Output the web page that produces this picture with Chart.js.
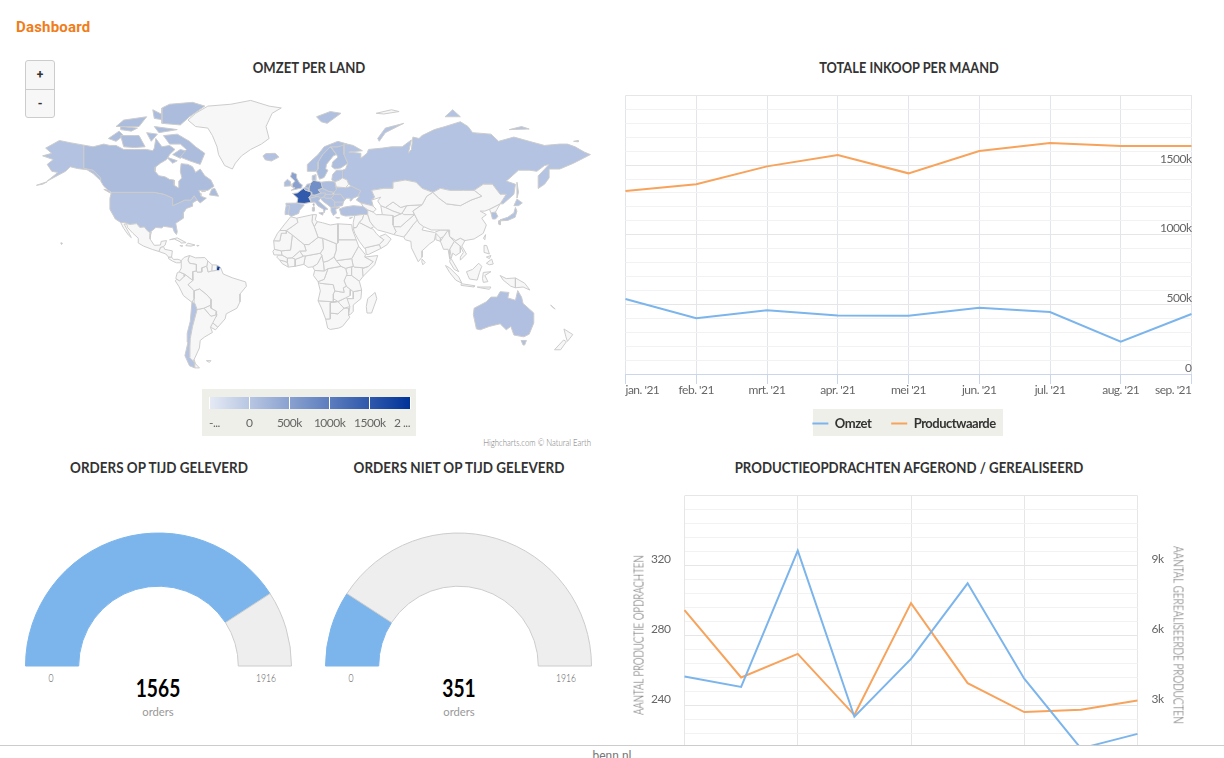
<!DOCTYPE html>
<html lang="nl">
<head>
<meta charset="utf-8">
<title>Dashboard</title>
<script src="https://cdn.jsdelivr.net/npm/chart.js@4"></script>
<style>
  html, body { margin: 0; width: 1224px; height: 758px; overflow: hidden; background: #fff; }
  body { position: relative; font-family: Lato, sans-serif; color: #333; }
  canvas { position: absolute; }
  .abs { position: absolute; white-space: nowrap; }
  #brand { left: 16px; top: 18px; font: 700 15px Roboto, sans-serif; letter-spacing: .2px; color: #f07d1a; }
  .title { font-size: 16px; font-weight: 700; line-height: 20px; color: #333; transform: translateX(-50%) scaleX(.84); }
  #zoom { left: 25px; top: 60px; width: 28px; height: 56px; border: 1px solid #ccc; border-radius: 3px; background: #f7f7f7; font: 700 12px Roboto, sans-serif; color: #333; }
  #zoom div { height: 28px; line-height: 28px; text-align: center; }
  #zoom div + div { border-top: 1px solid #ccc; box-sizing: border-box; height: 28px; }
  #credit { left: 591px; top: 436px; font-size: 10px; font-weight: 300; color: #777; transform: translateX(-100%) scaleX(.78); transform-origin: right; }
  .box { background: #eeefe9; }
  .gauge-end { font-size: 12px; font-weight: 300; color: #555; top: 670px; transform: translateX(-50%) scaleX(.72); }
  .gauge-value { font-size: 24px; font-weight: 700; color: #000; top: 673px; transform: translateX(-50%) scaleX(.8); }
  .gauge-unit { font-size: 12px; color: #999; top: 704px; transform: translateX(-50%) scaleX(.94); }
  .axis-title { font-size: 14px; font-weight: 300; color: #555; top: 635px; }
  #footer { left: 0; top: 745px; width: 1224px; height: 13px; background: #fff; border-top: 1px solid #ccc; box-sizing: border-box; text-align: center; font: 12px Roboto, sans-serif; color: #777; line-height: 20px; overflow: hidden; z-index: 5; }
</style>
</head>
<body>
<div id="brand" class="abs">Dashboard</div>

<div class="abs title" style="left:309px;top:57px;transform:translateX(-50%) scaleX(.82)">OMZET PER LAND</div>
<div class="abs title" style="left:909px;top:57px;transform:translateX(-50%) scaleX(.8)">TOTALE INKOOP PER MAAND</div>
<div class="abs title" style="left:159px;top:457px">ORDERS OP TIJD GELEVERD</div>
<div class="abs title" style="left:459px;top:457px">ORDERS NIET OP TIJD GELEVERD</div>
<div class="abs title" style="left:909px;top:457px;transform:translateX(-50%) scaleX(.826)">PRODUCTIEOPDRACHTEN AFGEROND / GEREALISEERD</div>

<canvas id="map" width="570" height="285" style="left:25px;top:95px"></canvas>
<div id="zoom" class="abs"><div>+</div><div>-</div></div>
<div class="abs box" style="left:202px;top:389px;width:214px;height:47px"></div>
<canvas id="map-legend" width="214" height="47" style="left:202px;top:389px"></canvas>
<div id="credit" class="abs">Highcharts.com © Natural Earth</div>

<div class="abs box" style="left:813px;top:409px;width:190px;height:27px"></div>
<canvas id="inkoop" width="585" height="355" style="left:615px;top:85px"></canvas>

<canvas id="gauge-on-time" width="273" height="137" style="left:22px;top:531px"></canvas>
<canvas id="gauge-late" width="273" height="137" style="left:322px;top:531px"></canvas>
<div class="abs gauge-end" style="left:51px" id="on-time-min"></div>
<div class="abs gauge-end" style="left:266px" id="on-time-max"></div>
<div class="abs gauge-value" style="left:158px" id="on-time-value"></div>
<div class="abs gauge-unit" style="left:158px">orders</div>
<div class="abs gauge-end" style="left:351px" id="late-min"></div>
<div class="abs gauge-end" style="left:566px" id="late-max"></div>
<div class="abs gauge-value" style="left:459px" id="late-value"></div>
<div class="abs gauge-unit" style="left:459px">orders</div>

<canvas id="productie" width="580" height="300" style="left:620px;top:485px"></canvas>
<div class="abs axis-title" style="left:638px;transform:translate(-50%,-50%) rotate(-90deg) scaleX(.69)">AANTAL PRODUCTIE OPDRACHTEN</div>
<div class="abs axis-title" style="left:1179px;transform:translate(-50%,-50%) rotate(90deg) scaleX(.71)">AANTAL GEREALISEERDE PRODUCTEN</div>
<div id="footer" class="abs">benn.nl</div>

<script>
// Monthly purchasing (values in thousands)
const months = ["jan. '21", "feb. '21", "mrt. '21", "apr. '21", "mei '21", "jun. '21", "jul. '21", "aug. '21", "sep. '21"];
const omzet = [539, 400, 457, 421, 419, 476, 445, 232, 431];
const productwaarde = [1314, 1362, 1491, 1573, 1441, 1601, 1659, 1637, 1637];

// Production orders, the x labels are below the fold in the reference
const periods = ['1', '2', '3', '4', '5', '6', '7', '8', '9'];
const productieOpdrachten = [256.6, 250.6, 328.5, 233.6, 266.6, 309.8, 255.3, 215.5, 223.8];
const gerealiseerd = [7090, 4200, 5210, 2590, 7390, 3960, 2720, 2820, 3210];

// Gauges
const gaugeMin = 0;
const gaugeMax = 1916;
const ordersOnTime = 1565;
const ordersLate = 351;

// Colour axis of the map
const legendTicks = ['-...', '0', '500k', '1000k', '1500k', '2 ...'];

// Country outlines as lon,lat pairs
const canada = [[-141,69.6,-135,69,-128,70,-124,69.5,-120,69.5,-115,68,-108,68,-104,68,-100,68,-96,67.5,-95,68.5,-94,72,-90,69,-85,69.5,-81.5,68,-85,66,-87,64,-91,62.5,-94,61,-94.5,59,-92,57,-88,56.5,-85,55.3,-82,55,-82,52.5,-79.5,51.3,-79,54.5,-77,56,-78,59,-77.5,62.3,-73,62,-70,61,-68,58.5,-65,60,-62,57,-58,55,-56,52,-60,50,-66,50,-65,48.5,-64.5,47,-61,46,-65,43.5,-67,45,-69,47.3,-71,45,-75,45,-79,43.5,-83,42,-83,46,-88.5,48,-95,49,-123,49,-125,50,-128,52,-130,54.5,-130,56,-135,59.5,-141,60.3],
  [-80,73.5,-72,71,-68,69,-62,66.5,-65,62,-72,63.5,-78,65,-74,68,-78,70,-85,70,-89,73], [-117,73,-108,73,-105,73,-101,69,-108,68.7,-115,69], [-90,77,-78,76.5,-72,79,-62,82,-70,83,-85,82.5,-90,81.5], [-125,72,-118,74.5,-115,73,-120,71],
  [-95,76,-80,75,-92,74], [-59,47.7,-53,47,-55.5,51,-57.5,50.5], [-87,65,-80,63.5,-83,62.5], [-120,76,-105,76,-100,79,-115,78], [-100,74,-93,73.5,-97,71], [-128,50.5,-123.5,48.5,-125,50], [-117,76,-106,75.5,-110,74.5,-117,75], [-96,81,-87,79,-88,78,-95,78.5], [-83,66,-78,64.5,-72,67,-78,68], [-64,50,-61.5,49.5,-64,49.3]];
const usa = [[-123,49,-95,49,-88.5,48,-83,46,-83,42,-79,43.5,-75,45,-71,45,-69,47.3,-67,45,-70,43.5,-70,41.7,-74,40.5,-76,38,-76,35,-81,32,-80,27,-80.5,25.2,-82,27,-83,29.5,-85,29.7,-89,30.2,-90,29.2,-94,29.5,-97.3,27,-97.2,26,-99.5,27.5,-101.5,29.8,-104.5,29.5,-106.5,31.8,-111,31.3,-114.8,32.5,-117,32.5,-120.5,34.5,-124,40,-124,46],
  [-141,69.6,-150,70.5,-157,71.3,-166,68.5,-162,66.5,-168,65.5,-161,64,-165,62,-162,59,-158,58.5,-165,54.5,-153,59,-150,61,-145,60.2,-139,59.7,-135,58,-130.5,55,-130,56,-135,59.5,-141,60.3], [-156,20.2,-155,19.8,-155.6,19,-156,19.5], [-172,52.5,-168,53.5,-165,54.2,-168,53]];
const mexico = [[-117,32.5,-114.8,32.5,-111,31.3,-106.5,31.8,-104.5,29.5,-101.5,29.8,-99.5,27.5,-97.2,26,-97.8,22.5,-95,18.5,-91,18.7,-90.5,21,-87,21.5,-88,18.5,-89,17.8,-91,17.2,-92,14.6,-96,15.8,-102,18,-105.5,20,-105.5,23,-109,26,-112.5,29.5,-113,31.5,-114.7,31.5,-112,27,-110,23.3,-112,25,-115,29]];
const centralNorth = [[-92,14.6,-91,17.2,-89,17.8,-88.2,16,-83.2,15,-83.7,11,-85.7,11,-87.5,13]];
const centralSouth = [[-83.7,11,-82.5,9.5,-79.5,9.6,-77.4,8.7,-78,7.3,-80.5,7.3,-83,8.3,-85.7,10,-85.7,11]];
const caribbean = [[-85,22,-80,23.2,-74.2,20.2,-77.5,19.9,-78,20.7,-82,22.5], [-74.4,18.3,-73,19.9,-68.4,18.7,-71,18], [-78.3,18.4,-76.3,18.2,-77,17.8], [-67.2,18.5,-65.7,18.4,-67,18]];
const colombia = [[-77.4,8.7,-75.5,10.8,-72,12,-72.4,11,-73,9,-72,7,-67.5,6.2,-67.5,2,-70,1.5,-69.8,-4.2,-72,-2.5,-75,-0.2,-78.7,1.4,-77.3,4,-77.4,7]];
const venezuela = [[-72,12,-68,10.5,-62,10.7,-60,8.5,-60.7,5.2,-64,4,-64,1.3,-67,1.2,-67.5,2,-67.5,6.2,-72,7,-73,9,-72.4,11]];
const guyana = [[-60,8.5,-57.2,6,-57.5,2,-59.8,1.3,-60.7,5.2]];
const suriname = [[-57.2,6,-54,5.8,-54.5,2.3,-57.5,2]];
const frenchGuiana = [[-54,5.8,-51.7,4.2,-52.8,2.2,-54.5,2.3]];
const ecuador = [[-80.8,-2.2,-80,0.8,-78.7,1.4,-75,-0.2,-75.5,-1.5,-78.5,-4.5,-80.3,-3.4]];
const peru = [[-81.3,-4.5,-80.3,-3.4,-78.5,-4.5,-75.5,-1.5,-75,-0.2,-72,-2.5,-69.8,-4.2,-73,-7,-70.5,-9.5,-69,-11,-69,-16,-70.4,-18.3,-76,-14,-79,-8]];
const bolivia = [[-69,-11,-65.4,-9.8,-60.5,-13.7,-58,-16.5,-58,-20,-62.6,-22,-67,-22.8,-68.5,-19,-69,-16]];
const chile = [[-70.4,-18.3,-68.5,-19,-67,-22.8,-70,-33,-71.5,-40,-71.7,-44,-72,-50,-69,-52,-68.5,-55,-72,-54,-75,-49,-73,-42,-73.5,-37,-71.5,-30]];
const argentina = [[-67,-22.8,-62.6,-22,-58,-27,-54,-26,-58.3,-33.5,-57,-36.5,-62,-39,-65,-41,-65.5,-45,-69,-51,-69,-52,-72,-50,-71.7,-44,-71.5,-40,-70,-33], [-68.5,-52.7,-65.5,-55,-68.5,-55]];
const paraguay = [[-58,-20,-58,-22,-54.3,-24,-54.6,-27,-58,-27,-62.6,-22]];
const uruguay = [[-58.3,-33.5,-57.8,-30.2,-53.5,-33.5,-55,-35]];
const brazil = [[-51.7,4.2,-50,0,-44,-2.5,-35.3,-5.2,-34.8,-8,-39,-13,-39,-18,-41,-22,-48,-25.5,-48.7,-28.5,-53.5,-33.5,-57.8,-30.2,-54.6,-27,-54.3,-24,-58,-22,-58,-16.5,-60.5,-13.7,-65.4,-9.8,-69,-11,-70.5,-9.5,-73,-7,-69.8,-4.2,-70,1.5,-67.5,2,-67,1.2,-64,1.3,-64,4,-60.7,5.2,-59.8,1.3,-57.5,2,-54.5,2.3,-52.8,2.2]];
const falklands = [[-61,-51.5,-58,-51.5,-59,-52.4]];
const greenland = [[-73,78,-68,80,-60,82,-45,82.5,-32,83.5,-20,82,-12,81.5,-18,80,-22,76,-20,72,-25,70,-32,68,-38,65.5,-42,62.5,-44,60,-49,61.5,-53,66,-54,69,-57,73,-60,75.5,-68,76]];

const morocco = [[-5.9,35.8,-2,35,-1.2,32.5,-5,30,-8.7,27.7,-13,27.7,-9.8,31.5]];
const westernSahara = [[-13,27.7,-8.7,27.7,-8.7,26,-12,26,-13,21.3,-17,21.4,-14.5,26]];
const algeria = [[-2,35,8.5,37,8,33,9.5,30,12,23.5,6,19,3,19,-4.8,25,-8.7,27.7,-5,30,-1.2,32.5]];
const tunisia = [[8.5,37,11,37,10.2,34,11.5,33,9.5,30,8,33]];
const libya = [[11.5,33,15,32.3,20,31,25,31.7,25,20,24,19.5,15,23,12,23.5,9.5,30]];
const egypt = [[25,31.7,34,31.2,34.5,28,37,22,25,22]];
const sudan = [[25,22,37,22,38.5,18,36.5,14.5,34,10,24,8.7,22.5,11,24,15.5,24,19.5,25,20]];
const southSudan = [[24,8.7,34,10,35,5,30,3.7,27,5]];
const mauritania = [[-17,21.4,-13,21.3,-12,26,-8.7,27.7,-4.8,25,-6,15.5,-12,15,-16.5,16]];
const mali = [[-12,15,-6,15.5,-4.8,25,3,19,4.2,15,0,14.9,-5,10.5,-8,10.4,-11.5,12.3]];
const senegal = [[-16.5,16,-12,15,-11.5,12.3,-16.8,12.4,-17.5,14.7]];
const guinea = [[-15,11,-13.7,12.5,-11.5,12.3,-8,10.4,-8,7.6,-10.5,8.5,-13,9]];
const liberia = [[-13,9,-10.5,8.5,-8,7.6,-7.5,4.5,-11.5,6.8]];
const ivoryCoast = [[-8,7.6,-8,10.4,-5,10.5,-2.8,9.5,-3,5,-7.5,4.5]];
const burkina = [[-5,10.5,0,14.9,2.3,11.5,-2.8,9.5]];
const ghana = [[-2.8,9.5,2.3,11.5,3.7,11.7,2.7,6.3,-3,5]];
const niger = [[0,14.9,4.2,15,3,19,6,19,12,23.5,15,23,15.5,16.5,13.5,13.5,3.7,11.7,2.3,11.5]];
const nigeria = [[2.7,6.3,3.7,11.7,13.5,13.5,14.5,12,11.5,6.5,8.5,4.7,5.5,4.3]];
const chad = [[15,23,24,19.5,24,15.5,22.5,11,18.5,8.5,15.5,7.7,14.5,12,13.5,13.5,15.5,16.5]];
const cameroon = [[8.5,4.7,11.5,6.5,14.5,12,15.5,7.7,16,2,9.8,2.3]];
const car = [[15.5,7.7,18.5,8.5,22.5,11,24,8.7,27,5,18.5,3.5,16,2]];
const gabon = [[9.8,2.3,16,2,18.5,3.5,16,-3.5,12,-5,9,-1]];
const congo = [[18.5,3.5,27,5,30,3.7,31,0,29,-4.5,30.5,-8,28.5,-9,29,-12,23,-11,22,-7,13,-6,12,-5,16,-3.5]];
const ethiopia = [[36.5,14.5,38.5,18,43,12.5,42.5,11,48,8,45,5,42,4,36,4.5,35,5,34,10]];
const somalia = [[42.5,11,51,12,49,6,41.5,-1.5,41,3.5,45,5,48,8]];
const kenya = [[35,5,36,4.5,42,4,41,3.5,41.5,-1.5,39,-4.7,34,-1,34,4]];
const uganda = [[30,3.7,35,5,34,4,34,-1,30,-1,31,0]];
const tanzania = [[30,-1,34,-1,39,-4.7,40.5,-10.5,35,-11.5,30.5,-8,29,-4.5]];
const angola = [[12,-5,13,-6,22,-7,23,-11,22,-13,22,-18,12,-17.3,13.5,-11]];
const zambia = [[23,-11,29,-12,28.5,-9,30.5,-8,33.5,-10,33,-14,30,-15.5,25,-17.8,22,-16,22,-13]];
const mozambique = [[40.5,-10.5,35,-11.5,35,-16,31,-16,32.8,-21,32,-26,33,-26,35,-24,35,-20,40,-16]];
const zimbabwe = [[25.2,-17.8,30,-15.5,33,-16,32.8,-21,29,-22,26,-19]];
const namibia = [[12,-17.3,22,-18,25,-17.8,20,-18.5,20,-28.5,17,-28.7,14.5,-22.5]];
const botswana = [[20,-18.5,25.2,-17.8,29,-22,25,-25.5,20,-25]];
const southAfrica = [[17,-28.7,20,-28.5,20,-25,25,-25.5,29,-22,32,-22,32,-26.5,32.8,-27.5,28,-33,25.5,-34,20,-34.8,18.3,-34]];
const madagascar = [[49.3,-12,50.4,-16,47,-25,44,-25,43.5,-21,44.5,-16]];

const iceland = [[-24,65.5,-22,66.4,-16,66.5,-13.6,65,-18.5,63.4,-22.5,63.9]];
const ireland = [[-10,52,-10,54,-8,55.3,-6,54.2,-6,52.2]];
const uk = [[-5.5,50,1.3,51.2,1.7,52.7,0,53.5,-2,56,-2,57.7,-5,58.6,-6,56.5,-3,54.5,-4.5,53.3,-5,51.7,-3,51.3]];
const norway = [[5,59,5,62,12,66,16,69,25,71,31,70,25,69,20,69,15,66,12,63,12,60,10.5,59], [11,79,20,80.5,27,80,18,77,14,77.5]];
const sweden = [[11,59,12,60,12,63,15,66,20,69,24,66,22,65.5,17.5,62,17,60,18.5,59.5,16,56.2,13,55.4]];
const finland = [[21,61,21.5,63,25,65,24,66,20.5,69,25,69,29,70,29,66,31.5,62.5,27,60.5,23,60]];
const denmark = [[8.2,57,10.5,57.5,10.5,55,8.7,54.9]];
const netherlands = [[3.5,51.4,4.8,53,7,53.3,6,51]];
const belgium = [[2.5,51,3.5,51.4,6,51,6,49.6,4,50]];
const germany = [[6,51,7,53.3,9,54.9,14,54,15,51,12.3,50.3,13.8,48.6,10,47.5,7.6,47.6,8,49,6,49.6]];
const france = [[-1.8,43.4,-1.2,46,-4.7,48.4,-1.5,48.7,2.5,51,4,50,6,49.6,8,49,7.6,47.6,6,46.3,7.5,43.8,3,43.2], [8.6,42.9,9.5,43,9.3,41.5]];
const spain = [[-9,43.3,-1.8,43.4,3,42.4,0,39.5,-0.7,37.7,-5.5,36,-7.4,37.2,-6.5,42,-8.8,42]];
const portugal = [[-8.8,42,-6.5,42,-7.4,37.2,-9,37,-9.5,38.8]];
const italy = [[7.5,43.8,7,46,12,47,13.7,46,12.3,44.5,16,41.9,18.5,40,16.7,39.8,16,38,15.5,40,12,41.8,10,43.9], [12.5,38,15.5,38.2,15,36.7], [8.3,41,9.7,41,9.5,39,8.5,39]];
const switzerland = [[6,46.3,7.6,47.6,10,47.5,10.4,46.5,7,46]];
const austria = [[10,47.5,13.8,48.6,17,48.7,16,46.8,13.7,46,10.4,46.8]];
const poland = [[14,54,19,54.4,23,54.2,24,50.5,22.5,49,19,49.5,15,51]];
const czechia = [[12.3,50.3,15,51,19,49.5,22.5,49,21,48,17,48,13.8,48.6]];
const hungary = [[16,46.8,17,48,21,48,22.8,48,20.5,46,17,46]];
const romania = [[22.8,48,26.6,48.2,29.6,45.2,28.6,44,23,44,20.5,46]];
const bulgaria = [[23,44,28.6,44,28,42,23,41.3]];
const balkans = [[13.7,46,16,46.8,17,46,20.5,46,23,44,23,41.3,20.5,41,18.5,42.4,15,44.5]];
const greece = [[20.5,41,23,41.3,26,41,23.5,40,24,37.8,22,36.5,20.5,39], [23.5,35.5,26.2,35.2,24.5,34.9]];
const baltics = [[21,55,21.5,57.5,24,59.5,28,59.5,28,56,26,55,23,54.2]];
const belarus = [[23,54.2,26,55,28,56,31,55,32,53,30,51.3,24,51.7]];
const ukraine = [[24,51.7,30,51.3,34,52,40,49.8,38,47,35,46,33.5,44.5,33,46,30.7,46,29.6,45.2,26.6,48.2,22.8,48,22.5,49,24,50.5]];
const turkey = [[26,40.2,29,41.2,35,42,41.5,41.5,44.5,39.7,44.5,37,36,36.5,30,36.2,27,37]];
const cyprus = [[32.4,35,34.5,35.6,33.5,34.7]];

const russia = [[30,60,28,59.5,28,56,31,55,32,53,34,52,40,49.8,38,47,39,47,37,45,40,43.5,48,41.8,47,45,49,46.5,47,50,55,51,61,51,61,54,69,55,76,54,80,51,87,49,92,51,98,50,107,50,114,50,120,53,126,53,131,48,135,48,131,43,133,43,140,48,141,53,135,54.5,139,57,143,59.5,150,59.5,155,59,160,61.5,163,62,156,57,156,51,160,53,163,56,163,60,170,60,179,62.5,190,66,186,67,180,69,175,70,170,70,160,69.5,150,71,140,72.5,130,71,125,73.5,113,74,110,76,105,77.5,95,76,88,75,80,73,78,72,74,72.5,73,68,71,66.5,73,71.5,67,69,60,69,54,68.5,45,68,44,66.5,40,64.5,40,66.5,32,67,41,67.5,35,69.5,31,70,29,70,29,66,31.5,62.5],
  [142,54,143,49,142,46,142,50], [52,71,56,74,68,77,56,75.5,51,72], [95,79,105,79,100,81], [137,75,145,76,150,75.2], [179,71,182,71.3,182,70.8]];
const franzJosef = [[50,80,60,81,65,80.5,55,79.8]];
const caucasus = [[40,43.5,48,41.8,50,40,48,38.5,44.5,39.7,41.5,41.5]];
const kazakhstan = [[47,45,49,46.5,47,50,55,51,61,51,61,54,69,55,76,54,80,51,87,49,83,47,80,42.5,70,42,66,41,61,44,56,41,53,42,51,44.5,53,46.5]];
const mongolia = [[87,49,92,51,98,50,107,50,114,50,119,47,112,45,105,42,96,43,91,46]];
const china = [[80,42.5,83,47,87,49,91,46,96,43,105,42,112,45,119,47,114,50,120,53,126,53,131,48,135,48,131,43,124,40,121,39,118,39,122,37,119,35,122,31,120,26,114,22.5,108,21.5,105,23,102,21.5,98,24,98,28,92,28,86,28,81,30,78,32,74,39]];
const northKorea = [[124,40,131,43,129,40,128,38.5,125,38]];
const southKorea = [[125,38,128,38.5,129.5,36,128,34.5,126,34.5]];
const japan = [[130.9,34,136,35.5,140,38,141,41,142,39,140.8,35.5,136,33.7,132,33.5], [140,42,142,45.5,145.5,43.5,143,42], [130,33.5,131.5,33.8,131,31,130,31.5]];
const taiwan = [[120.1,23,121.5,25.2,121,22]];
const iran = [[44.5,39.7,48,38.5,50,37,54,37,61,36.5,61,31,63,27,61.5,25.2,57,26.5,51,28,48.5,30,46,33,44.5,37]];
const iraq = [[44.5,37,46,33,48.5,30,46.5,29,39,32.5,41,34.5,42,37.2]];
const syria = [[36,36.5,42,37.2,41,34.5,39,32.5,37,29.5,35,29.5,35,32.5]];
const saudi = [[35,29,37,29.5,39,32.5,46.5,29,48,28.5,50,26,52,24,55,22,52,19,43,17,42.5,16.5,39,21,36,26]];
const yemen = [[43,17,52,19,53,16.5,45,12.7,43.5,12.7]];
const oman = [[52,24,56,25.5,59.8,22.5,57,18.8,53,16.5,52,19,55,22]];
const turkmenistan = [[53,42,56,41,61,39,66,37.5,61,35.5,54,37]];
const uzbekistan = [[56,41,61,44,66,41,70,42,67,38,66,37.5,61,39]];
const kyrgyzstan = [[70,42,80,42.5,74,39,75,37,68,37,67,38]];
const afghanistan = [[61,35.5,66,37.5,71,38,75,37,71,34,66,30,61,30]];
const pakistan = [[61,30,66,30,71,34,75,37,77,34,74,31,70,26,68,23.7,61.5,25.2,63,27]];
const india = [[68,23.7,70,26,74,31,77,35,79,32,81,30,80,28,88,26.5,92,28,97,28,94,24,92,23,89,26,88,21.5,85,19.5,80,15,80,11,77.5,8,73,17,72.7,21,69,22]];
const bangladesh = [[89,26,92,25,92,21,89,22]];
const myanmar = [[92,21,94,24,97,28,98,24,101,21,98,16,98,10,97,16,94,16]];
const thailand = [[98,16,101,21,105,18,105,14,102,12,100,13.5,99,10,104,1.5,101,3,98,8,99,12]];
const vietnam = [[102,21.5,105,23,108,21.5,106,18,109,13,105,9,105,11,107,14,105,18,101,21]];
const sriLanka = [[80,9.7,82,7.5,80.5,6,79.8,8]];
const indonesia = [[95.3,5.5,98,4,104,-2,106,-6,102,-4,98,1], [105.5,-6.3,114.5,-7.7,114,-8.5,106,-7.5], [109,1.5,113,3,117,7,119,5,117.5,1,116,-4,111,-3.3,110,-1], [120,1,125,1.5,121,-1,123,-5,120,-5.5,119.5,-3], [131,-1,135,-3,141,-2.6,141,-9,138,-8,133,-4], [116,-8.5,125,-8.5,124,-10,118,-9]];
const papua = [[141,-2.6,147,-6,150.5,-10.5,146,-8.5,141,-9]];
const philippines = [[120.5,18.5,122.2,18.4,124,13,120.5,14], [122,7,125.5,9.7,126.5,6.5,124,6], [122,11,125,12,124,10]];
const australia = [[114,-22,113.5,-26,115.5,-34.5,118,-35,124,-33,131,-31.5,135,-35,138,-33,140,-38,146.5,-39,150,-37.5,153,-31,153,-25,146,-19,145,-15,142.5,-10.8,141,-17,136,-15.5,136.8,-12,131,-11.5,129,-15,125,-15,122,-18], [144.7,-41,148.2,-41,147,-43.5,146,-43.5]];
const newZealand = [[172.7,-34.5,178.5,-37.7,175,-41.5,174,-39], [172.5,-40.7,174.3,-41.7,170.5,-46,166.5,-46]];
const newCaledonia = [[164,-20,167,-22.5,166,-22]];

// Revenue per country in thousands, countries not listed here have no revenue
const greyCountries = [greenland, mexico, centralNorth, centralSouth, caribbean, colombia, venezuela, guyana, suriname, ecuador, peru, bolivia, argentina, paraguay, uruguay, brazil, falklands,
  morocco, westernSahara, algeria, tunisia, libya, egypt, sudan, southSudan, mauritania, mali, senegal, guinea, liberia, ivoryCoast, burkina, ghana, niger, nigeria, chad, cameroon, car, gabon, congo, ethiopia, somalia, kenya, uganda, tanzania, angola, zambia, mozambique, zimbabwe, namibia, botswana, southAfrica, madagascar,
  belarus, franzJosef, cyprus, caucasus, kazakhstan, mongolia, china, northKorea, taiwan, iran, iraq, syria, saudi, yemen, oman, turkmenistan, uzbekistan, kyrgyzstan, afghanistan, pakistan, india, bangladesh, myanmar, thailand, vietnam, sriLanka, indonesia, papua, philippines, newZealand];
const soldCountries = [canada, usa, russia, australia, chile, newCaledonia, japan, southKorea, turkey, ukraine, iceland, ireland, spain, portugal, italy, switzerland, austria, poland, czechia, hungary, romania, bulgaria, balkans, greece, baltics, denmark, norway, finland, sweden, netherlands, belgium, uk, germany, france, frenchGuiana];
const soldValues = [142, 60, 50, 80, 50, 100, 60, 90, 70, 60, 60, 120, 70, 50, 120, 90, 70, 120, 70, 60, 70, 50, 60, 60, 60, 120, 100, 130, 170, 300, 300, 500, 750, 1470, 1900];

function miller(lat) {
  return 1.25 * Math.log(Math.tan(Math.PI / 4 + 0.4 * lat * Math.PI / 180));
}

function toPoints(pairs) {
  const points = [];
  for (let i = 0; i < pairs.length; i += 2) {
    points.push({ x: pairs[i], y: miller(pairs[i + 1]) });
  }
  points.push(points[0]);
  return points;
}

function revenueColor(value) {
  const t = (value + 500) / 2500;
  const r = Math.round(230 - 230 * t);
  const g = Math.round(235 - 184 * t);
  const b = Math.round(245 - 92 * t);
  return `rgb(${r}, ${g}, ${b})`;
}

function countryDatasets(country, fill) {
  return country.map((part) => ({
    data: toPoints(part),
    showLine: true,
    fill: 'shape',
    backgroundColor: fill,
    borderColor: '#cccccc',
    borderWidth: 1,
    pointRadius: 0,
    tension: 0
  }));
}

const mapDatasets = [];
greyCountries.forEach((country) => mapDatasets.push(...countryDatasets(country, '#f7f7f7')));
soldCountries.forEach((country, i) => mapDatasets.push(...countryDatasets(country, revenueColor(soldValues[i]))));

// no condensed font on the box, tighten the canvas labels instead
const tightLabels = {
  id: 'tightLabels',
  beforeDraw(chart) {
    chart.ctx.letterSpacing = '-0.5px';
  }
};

Chart.defaults.animation = false;
Chart.defaults.responsive = false;
Chart.defaults.font.family = 'Lato, sans-serif';
Chart.defaults.font.size = 12;
Chart.defaults.font.lineHeight = 1.05;
Chart.defaults.color = '#666666';
Chart.defaults.plugins.tooltip.enabled = false;
Chart.register(tightLabels);

new Chart(document.getElementById('map'), {
  type: 'scatter',
  data: { datasets: mapDatasets },
  options: {
    layout: { padding: 0 },
    plugins: { legend: { display: false } },
    scales: {
      x: { display: false, min: -179.5, max: 193 },
      y: { display: false, min: -1.209, max: 2.041 }
    }
  }
});

new Chart(document.getElementById('map-legend'), {
  type: 'bar',
  data: {
    labels: ['Omzet'],
    datasets: [{
      data: [[-500, 2000]],
      barPercentage: 1,
      categoryPercentage: 1,
      backgroundColor(context) {
        const area = context.chart.chartArea;
        if (!area) {
          return '#e6ebf5';
        }
        const gradient = context.chart.ctx.createLinearGradient(area.left, 0, area.right, 0);
        gradient.addColorStop(0, '#e6ebf5');
        gradient.addColorStop(1, '#003399');
        return gradient;
      }
    }]
  },
  options: {
    indexAxis: 'y',
    layout: { padding: { left: 7, right: 6, top: 8, bottom: 0 } },
    plugins: { legend: { display: false } },
    scales: {
      y: { display: false },
      x: {
        min: -500,
        max: 2000,
        afterFit(scale) {
          scale.height = 27;
          scale.paddingLeft = 0;
          scale.paddingRight = 0;
        },
        grid: { color: '#ffffff', z: 1, drawTicks: false },
        border: { display: false },
        ticks: {
          stepSize: 500,
          align: 'inner',
          autoSkip: false,
          maxRotation: 0,
          padding: 8,
          callback(value, index) { return legendTicks[index]; }
        }
      }
    }
  }
});

// labels sit just above their grid line, a blank second line shifts them up
function aboveLine(text) {
  return text === '' ? '' : [text, ''];
}

function gridColor(context) {
  return context.tick && context.tick.major ? '#e6e6e6' : '#f2f2f2';
}

function noLabelPadding(scale) {
  scale.paddingTop = 0;
  scale.paddingBottom = 0;
}

new Chart(document.getElementById('inkoop'), {
  type: 'line',
  data: {
    labels: months,
    datasets: [
      { label: 'Omzet', data: omzet, borderColor: '#7cb5ec', backgroundColor: '#7cb5ec', borderWidth: 2, pointRadius: 0, tension: 0 },
      { label: 'Productwaarde', data: productwaarde, borderColor: '#f7a35c', backgroundColor: '#f7a35c', borderWidth: 2, pointRadius: 0, tension: 0 }
    ]
  },
  options: {
    layout: { padding: { left: 10.5, right: 8.5, top: 10.5, bottom: 0 } },
    plugins: {
      legend: {
        position: 'bottom',
        labels: {
          usePointStyle: true,
          pointStyle: 'line',
          pointStyleWidth: 16,
          color: '#333333',
          font: { size: 13, weight: 'bold' },
          padding: 20
        }
      }
    },
    scales: {
      x: {
        afterFit(scale) { scale.height = 23; },
        grid: { color: '#e2e6ec', tickColor: '#ccd6eb', tickLength: 10 },
        border: { color: '#ccd6eb' },
        ticks: { align: 'inner', autoSkip: false, maxRotation: 0, padding: 0 }
      },
      y: {
        position: 'right',
        min: 0,
        max: 2000,
        afterFit(scale) { scale.width = 0; },
        afterBuildTicks(scale) {
          scale.ticks.forEach((tick) => { tick.major = tick.value % 500 === 0; });
        },
        grid: { color: gridColor, drawTicks: false },
        border: { display: false },
        ticks: {
          stepSize: 100,
          mirror: true,
          padding: 0,
          autoSkip: false,
          callback(value) {
            if (value % 500 !== 0 || value === 2000) {
              return '';
            }
            return aboveLine(value === 0 ? '0' : `${value}k`);
          }
        }
      }
    }
  }
});

function renderGauge(id, value) {
  new Chart(document.getElementById(id), {
    type: 'doughnut',
    data: {
      datasets: [{
        data: [value - gaugeMin, gaugeMax - value],
        backgroundColor: ['#7cb5ec', '#eeeeee'],
        borderColor: ['#7cb5ec', '#cccccc'],
        borderWidth: 1
      }]
    },
    options: {
      animation: false,
      rotation: -90,
      circumference: 180,
      radius: 133,
      cutout: '60%',
      plugins: { legend: { display: false } }
    }
  });
}

renderGauge('gauge-late', ordersLate);
renderGauge('gauge-on-time', ordersOnTime);
document.getElementById('on-time-min').textContent = gaugeMin;
document.getElementById('on-time-max').textContent = gaugeMax;
document.getElementById('on-time-value').textContent = ordersOnTime;
document.getElementById('late-min').textContent = gaugeMin;
document.getElementById('late-max').textContent = gaugeMax;
document.getElementById('late-value').textContent = ordersLate;

new Chart(document.getElementById('productie'), {
  type: 'line',
  data: {
    labels: periods,
    datasets: [
      { label: 'Productieopdrachten', data: productieOpdrachten, yAxisID: 'left', borderColor: '#7cb5ec', borderWidth: 2, pointRadius: 0, tension: 0 },
      { label: 'Gerealiseerd', data: gerealiseerd, yAxisID: 'right', borderColor: '#f7a35c', borderWidth: 2, pointRadius: 0, tension: 0 }
    ]
  },
  options: {
    layout: { padding: { left: 0, right: 0, top: 10.5, bottom: 0 } },
    plugins: { legend: { display: false } },
    scales: {
      x: {
        afterFit(scale) {
          scale.height = 9.5;
          scale.paddingLeft = 0;
          scale.paddingRight = 0;
        },
        grid: {
          color(context) { return context.index % 2 === 0 ? '#e6e6e6' : 'rgba(0,0,0,0)'; },
          drawTicks: false
        },
        border: { color: '#ccd6eb' },
        ticks: { display: false, autoSkip: false }
      },
      left: {
        position: 'left',
        min: 200,
        max: 360,
        afterFit(scale) {
          scale.width = 64.5;
          noLabelPadding(scale);
        },
        afterBuildTicks(scale) {
          scale.ticks.forEach((tick) => { tick.major = tick.value % 40 === 0; });
        },
        grid: { color: gridColor, drawTicks: false },
        border: { display: false },
        ticks: {
          stepSize: 8,
          padding: 14,
          autoSkip: false,
          callback(value) {
            return value % 40 === 0 && value !== 360 ? aboveLine(String(value)) : '';
          }
        }
      },
      right: {
        position: 'right',
        min: 0,
        max: 12000,
        afterFit(scale) {
          scale.width = 62.5;
          noLabelPadding(scale);
        },
        grid: { display: false, drawTicks: false },
        border: { display: false },
        ticks: {
          stepSize: 3000,
          padding: 14,
          callback(value) {
            return value === 12000 ? '' : aboveLine(`${value / 1000}k`);
          }
        }
      }
    }
  }
});
</script>
</body>
</html>
